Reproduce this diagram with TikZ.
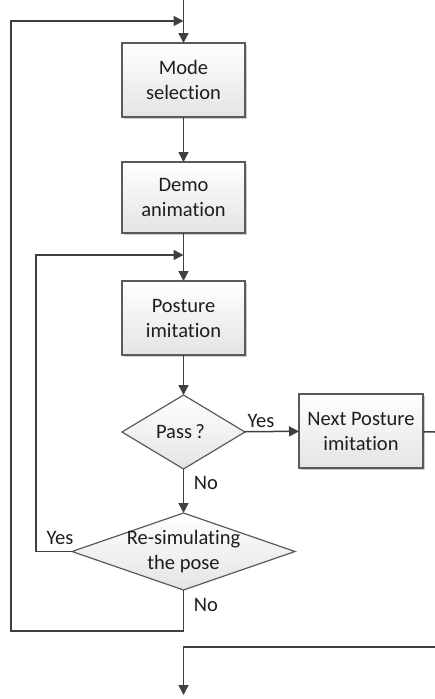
\documentclass[tikz,border=0pt]{standalone}
\usepackage{fontspec}
\setmainfont{Carlito}[Ligatures=NoCommon]
\usetikzlibrary{shapes.geometric,arrows.meta,shadows}
\definecolor{linegray}{HTML}{404040}
\definecolor{boxgray}{HTML}{5A5A5A}
\definecolor{fillgray}{HTML}{E4E4E4}
\definecolor{textgray}{HTML}{1E1E1E}
\begin{document}
\begin{tikzpicture}[x=1pt,y=-1pt,
  font=\fontsize{20.5}{25}\selectfont,text=textgray,
  procbox/.style={draw=boxgray,line width=1.2pt,top color=white,bottom color=fillgray,
    minimum width=123pt,minimum height=74pt,inner sep=0pt,outer sep=0pt,align=center,
    drop shadow={shadow xshift=1.5pt,shadow yshift=-1.5pt,fill=black,opacity=0.2}},
  decision/.style={diamond,draw=boxgray,line width=1.2pt,top color=white,bottom color=fillgray,
    inner sep=0pt,outer sep=0pt,align=center},
  flow/.style={draw=linegray,line width=1.5pt,-{Triangle[length=10pt,width=10pt]}},
  plainline/.style={draw=linegray,line width=1.5pt}]
\useasboundingbox (0,0) rectangle (435,699);

\node[procbox] (mode) at (183.5,80) {Mode\\selection};
\node[procbox,minimum height=71pt] (demo) at (183.5,197.5) {Demo\\animation};
\node[procbox] (posture) at (183.5,318) {Posture\\imitation};
\node[decision,minimum width=123pt,minimum height=74pt] (pass) at (183.5,432) {Pass\,?\kern6pt};
\node[procbox,minimum width=124pt] (next) at (361,431) {Next Posture\\imitation};
\node[decision,minimum width=223pt,minimum height=77pt] (resim) at (183.5,551.5) {};
\node[align=center,inner sep=0pt] (resimtext) at (183.5,551.5) {Re-simulating\\the pose};

\coordinate (top) at (183.5,0);
\coordinate (join1) at (183.5,21);
\coordinate (join2) at (183.5,255);
\coordinate (outer) at (11,631);
\coordinate (inner) at (36,551.5);
\coordinate (rightout) at (435,432);
\coordinate (rightin) at (435,647);
\coordinate (bottom) at (183.5,695);

\draw[flow] (top) -- (mode);
\draw[flow] (mode) -- (demo);
\draw[flow] (demo) -- (posture);
\draw[flow] (posture) -- (pass);
\draw[flow] (pass) -- (next);
\draw[flow] (pass) -- (resim);
\draw[flow] (resim.west) -- (inner) |- (join2);
\draw[flow] (resim.south) |- (outer) |- (join1);
\draw[plainline] (next) -- (rightout);
\draw[flow] (rightin) -| (bottom);

\node (yes1) at (261,421) {Yes};
\node (no1) at (206,483) {No};
\node (yes2) at (60,538) {Yes};
\node (no2) at (206,605) {No};
\end{tikzpicture}
\end{document}
